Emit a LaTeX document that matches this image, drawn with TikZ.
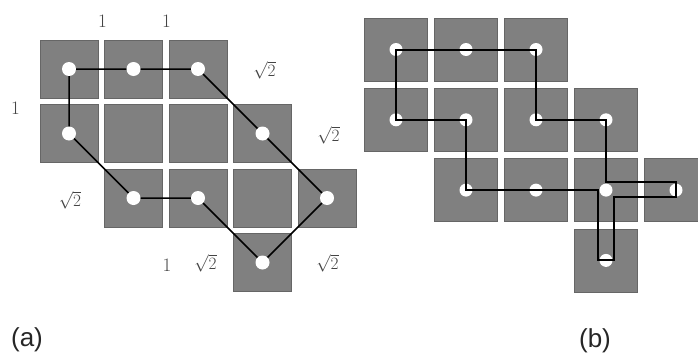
\documentclass[tikz,border=0pt]{standalone}
\usepackage{fontspec}
\newfontfamily\capfont{Liberation Sans}
\usepackage{xcolor}
\definecolor{tile}{HTML}{808080}
\definecolor{tileedge}{HTML}{666666}
\definecolor{lenlabel}{HTML}{444444}

\begin{document}
\begin{tikzpicture}[x=1pt, y=-1pt,
  cella/.style={draw=tileedge, line width=0.6pt, fill=tile, minimum size=58pt, inner sep=0pt},
  cellb/.style={draw=tileedge, line width=0.6pt, fill=tile, minimum size=63pt, inner sep=0pt},
  dota/.style={circle, fill=white, minimum size=14pt, inner sep=0pt},
  dotb/.style={circle, fill=white, minimum size=13pt, inner sep=0pt},
  len/.style={font=\fontsize{19}{21}\selectfont, text=lenlabel, inner sep=0pt},
  toura/.style={line width=1.5pt, black},
  tourb/.style={line width=2pt, black},
  subcap/.style={font=\capfont\fontsize{26}{28}\selectfont, text=black!85, inner sep=0pt}
]
  \useasboundingbox (0,0) rectangle (698,356);

  % (a) tiles and cell centres
  \foreach \c/\r in {1/1,2/1,3/1,1/2,2/2,3/2,4/2,2/3,3/3,4/3,5/3,4/4}
    \node[cella] (a\c\r) at ({69+64.5*(\c-1)}, {69+64.5*(\r-1)}) {};
  \foreach \c/\r in {1/1,2/1,3/1,1/2,4/2,2/3,3/3,5/3,4/4}
    \node[dota] (p\c\r) at (a\c\r) {};

  \draw[toura] (p21) -- (p11) -- (p12) -- (p23) -- (p33) -- (p44)
    -- (p53) -- (p42) -- (p31) -- (p21);

  % edge lengths
  \node[len] (lenA1) at (102.5, 21) {1};
  \node[len] (lenA2) at (166.5, 21) {1};
  \node[len] (lenA3) at (264.5, 70) {$\sqrt{2}$};
  \node[len] (lenA4) at (15.5, 108) {1};
  \node[len] (lenA5) at (328.5, 135) {$\sqrt{2}$};
  \node[len] (lenA6) at (70, 200) {$\sqrt{2}$};
  \node[len] (lenA7) at (167, 265) {1};
  \node[len] (lenA8) at (205.5, 263) {$\sqrt{2}$};
  \node[len] (lenA9) at (327.5, 263) {$\sqrt{2}$};

  % (b) tiles and cell centres
  \foreach \c/\r in {1/1,2/1,3/1,1/2,2/2,3/2,4/2,2/3,3/3,4/3,5/3,4/4}
    \node[cellb] (b\c\r) at ({396+70*(\c-1)}, {49.5+70.3*(\r-1)}) {};
  \foreach \c/\r in {1/1,2/1,3/1,1/2,2/2,3/2,4/2,2/3,3/3,4/3,5/3,4/4}
    \node[dotb] (q\c\r) at (b\c\r) {};

  \draw[tourb] (q11.center) -- (q31.center) -- (q32.center) -- (q42.center)
    -- ([shift={(0,-8)}]q43.center) -- ([shift={(0,-8)}]q53.center)
    -- ([shift={(0,7)}]q53.center) -- ([shift={(8,7)}]q43.center)
    -- ([shift={(8,0)}]q44.center) -- ([shift={(-8,0)}]q44.center)
    -- ([shift={(-8,0)}]q43.center) -- (q23.center) -- (q22.center)
    -- (q12.center) -- cycle;

  % captions
  \node[subcap] (capA) at (27, 340) {(a)};
  \node[subcap] (capB) at (595, 341) {(b)};
\end{tikzpicture}
\end{document}
